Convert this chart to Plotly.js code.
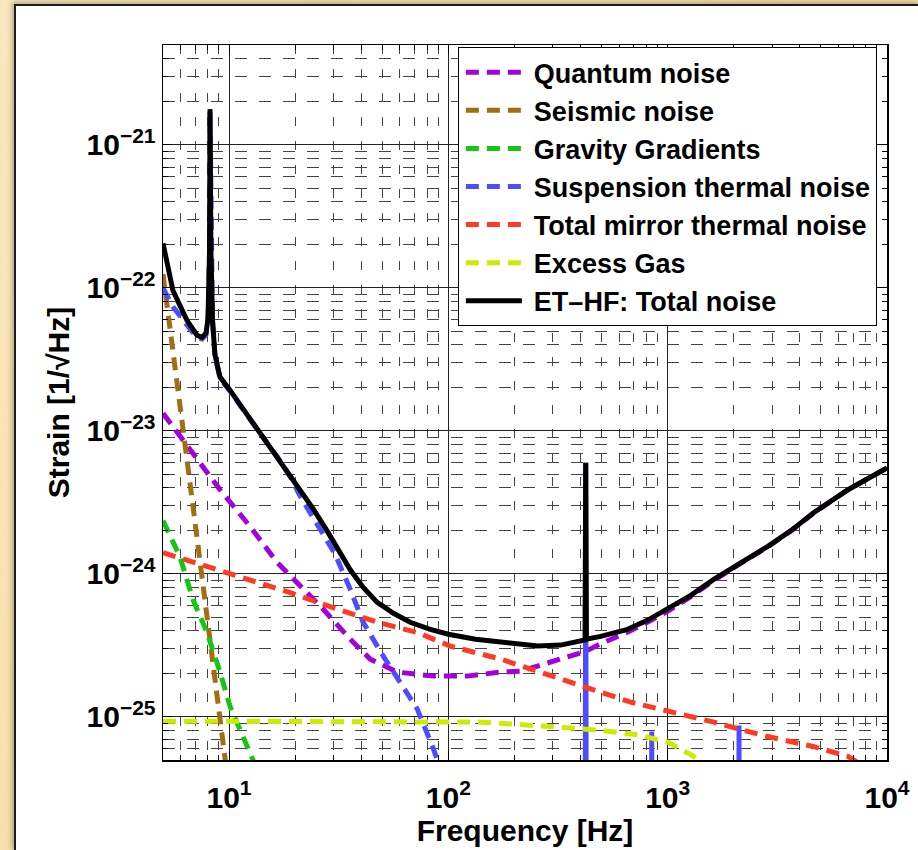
<!DOCTYPE html>
<html><head><meta charset="utf-8">
<script src="https://cdn.plot.ly/plotly-3.0.1.min.js"></script>
<style>
html,body{margin:0;padding:0;width:918px;height:850px;overflow:hidden;background:linear-gradient(135deg,#F9E7BF 0%,#F6DFAE 50%,#F9E8C4 100%);}
#panel{position:absolute;left:14px;top:4px;width:904px;height:846px;background:#fff;border-left:2px solid #1c1c1c;border-top:2px solid #1c1c1c;box-shadow:-2px -2px 5px rgba(70,50,10,0.35);}
#chart{position:absolute;left:0;top:0;width:918px;height:850px;}
</style></head><body>
<div id="panel"></div><div id="chart"></div>
<script>
// ---- data ----
const quantumF = [5.0, 6.84, 9.10, 12.5, 16.6, 20.4, 26.9, 35.7, 44.0, 58.5, 85.5, 122, 173, 214, 325, 423, 495, 656, 808, 1000, 1274, 1622, 2158, 2864, 3648, 4645, 6637, 10000];
const quantumH = [1.33e-23, 7.03e-24, 3.88e-24, 2.14e-24, 1.20e-24, 8.73e-25, 5.66e-25, 3.50e-25, 2.54e-25, 2.06e-25, 1.93e-25, 1.93e-25, 2.06e-25, 2.09e-25, 2.54e-25, 2.88e-25, 3.25e-25, 3.91e-25, 4.60e-25, 5.48e-25, 6.95e-25, 9.0e-25, 1.19e-24, 1.55e-24, 2.0e-24, 2.68e-24, 3.87e-24, 5.5e-24];

const seismicF = [5.0, 5.5, 6.0, 6.5, 7.0, 7.5, 8.0, 8.5, 9.0, 9.5, 10.0];
const seismicH = [1.25e-22, 4.2e-23, 1.5e-23, 5.8e-24, 2.3e-24, 1.0e-24, 4.7e-25, 2.3e-25, 1.12e-25, 5.8e-26, 3.1e-26];

const gravityF = [5.0, 5.97, 6.85, 7.94, 9.10, 10.1, 11.2, 12.9, 13.5];
const gravityH = [2.36e-24, 1.32e-24, 6.6e-25, 3.9e-25, 2.06e-25, 1.19e-25, 8.2e-26, 5.1e-26, 4.2e-26];

const suspF = [5.0, 5.55, 6.43, 7.14, 7.53, 7.85, 8.02, 8.15, 8.19, 8.27, 8.41, 8.63, 9.10, 10.1, 11.2, 12.5, 14.3, 16.6, 19.0, 21.1, 26.1, 30.5, 35.7, 40.9, 50.5, 60.4, 72.1, 85.5, 91.8];
const suspH = [1.0e-22, 7.4e-23, 5.5e-23, 4.5e-23, 4.4e-23, 4.7e-23, 6.0e-23, 1.8e-22, 1.7e-21, 1.8e-22, 5.8e-23, 3.3e-23, 2.33e-23, 1.9e-23, 1.5e-23, 1.2e-23, 9.0e-24, 6.6e-24, 4.8e-24, 3.5e-24, 2.04e-24, 1.37e-24, 7.8e-25, 4.59e-25, 2.66e-25, 1.75e-25, 1.14e-25, 5.98e-26, 4.35e-26];
// violin-mode spikes of the suspension thermal noise
const suspSpikeF = [420, 423, 426, null, 843, 846, 849, null, 2105, 2115, 2125];
const suspSpikeH = [1e-27, 6.0e-24, 1e-27, null, 1e-27, 7.9e-26, 1e-27, null, 1e-27, 8.7e-26, 1e-27];

const mirrorF = [5.0, 8.81, 12.5, 19.0, 28.9, 47.4, 72.1, 102, 173, 237, 401, 678, 1000, 1622, 2742, 4645, 6637, 7500];
const mirrorH = [1.41e-24, 1.07e-24, 9.2e-25, 7.4e-25, 5.9e-25, 4.6e-25, 3.9e-25, 3.13e-25, 2.54e-25, 2.16e-25, 1.64e-25, 1.27e-25, 1.10e-25, 9.2e-26, 7.4e-26, 6.2e-26, 5.3e-26, 4.7e-26];

const gasF = [5.0, 20, 60, 140, 283, 479, 729, 1000, 1233, 1371, 1450];
const gasH = [9.35e-26, 9.33e-26, 9.3e-26, 9.2e-26, 8.6e-26, 8.1e-26, 7.5e-26, 6.67e-26, 5.6e-26, 5.09e-26, 4.5e-26];

const totalF = [5.0, 5.55, 5.97, 6.43, 7.14, 7.53, 7.85, 8.02, 8.15, 8.19, 8.27, 8.41, 8.63, 9.10, 10.1, 11.2, 12.5, 14.3, 16.6, 19.0, 21.1, 24.2, 28.0, 32.1, 35.7, 40.9, 47.4, 56.2, 67.0, 82.7, 100, 133, 173, 255, 325, 401, 420, 423, 426, 495, 656, 808, 1000, 1274, 1622, 2158, 2864, 3648, 4645, 6637, 10000];
const totalH = [2.05e-22, 9.6e-23, 7.55e-23, 5.94e-23, 4.67e-23, 4.52e-23, 4.82e-23, 6.1e-23, 1.82e-22, 1.78e-21, 1.82e-22, 5.94e-23, 3.39e-23, 2.38e-23, 1.93e-23, 1.54e-23, 1.23e-23, 9.16e-24, 6.7e-24, 5.0e-24, 3.94e-24, 2.85e-24, 2.0e-24, 1.42e-24, 1.07e-24, 8.05e-25, 6.32e-25, 5.31e-25, 4.59e-25, 4.10e-25, 3.79e-25, 3.50e-25, 3.33e-25, 3.13e-25, 3.18e-25, 3.39e-25, 3.45e-25, 6.0e-24, 3.5e-25, 3.66e-25, 4.10e-25, 4.74e-25, 5.66e-25, 7.08e-25, 9.16e-25, 1.20e-24, 1.56e-24, 2.01e-24, 2.69e-24, 3.88e-24, 5.52e-24];

const seriesNames = ['Quantum noise', 'Seismic noise', 'Gravity Gradients', 'Suspension thermal noise', 'Total mirror thermal noise', 'Excess Gas', 'ET\u2013HF: Total noise'];
const seriesColors = ['#A400DC', '#A36E12', '#12C812', '#4D4DFF', '#FF3A22', '#CDEB00', '#000000'];

const xTickVals = [10, 100, 1000, 10000];
const xTickText = ['10<sup>1</sup>', '10<sup>2</sup>', '10<sup>3</sup>', '10<sup>4</sup>'];
const yTickVals = [1e-25, 1e-24, 1e-23, 1e-22, 1e-21];
const yTickText = ['10<sup>\u221225</sup>', '10<sup>\u221224</sup>', '10<sup>\u221223</sup>', '10<sup>\u221222</sup>', '10<sup>\u221221</sup>'];

// minor (2..9 per decade) tick positions
function minorVals(e0, e1) {
  const out = [];
  for (let e = e0; e <= e1; e++) for (let m = 2; m <= 9; m++) out.push(m * Math.pow(10, e));
  return out;
}

const DASH = '13px,8px';
const W = 5;
function dashed(x, y, i) {
  return {x: x, y: y, type: 'scatter', mode: 'lines', name: seriesNames[i],
    line: {color: seriesColors[i], width: W, dash: DASH}};
}
const traces = [
  dashed(quantumF, quantumH, 0),
  dashed(seismicF, seismicH, 1),
  dashed(gravityF, gravityH, 2),
  dashed(suspF, suspH, 3),
  {x: suspSpikeF, y: suspSpikeH, type: 'scatter', mode: 'lines', showlegend: false,
   connectgaps: false, line: {color: seriesColors[3], width: W}},
  dashed(mirrorF, mirrorH, 4),
  dashed(gasF, gasH, 5),
  {x: totalF, y: totalH, type: 'scatter', mode: 'lines', name: seriesNames[6],
   line: {color: seriesColors[6], width: 5}}
];

const FONT = 'Liberation Sans, Arial, Helvetica, sans-serif';
const axisCommon = {
  type: 'log', showline: true, linecolor: '#000', linewidth: 1.5, mirror: 'allticks',
  ticks: 'inside', ticklen: 9, tickwidth: 1, tickcolor: '#000',
  showgrid: true, gridcolor: '#222', gridwidth: 1, zeroline: false,
  tickmode: 'array',
  tickfont: {family: FONT, size: 30, color: '#000', weight: 'bold'}
};
const layout = {
  width: 918, height: 850,
  margin: {l: 163, r: 31, t: 45, b: 90},
  paper_bgcolor: 'rgba(0,0,0,0)', plot_bgcolor: '#fff',
  showlegend: true,
  xaxis: Object.assign({}, axisCommon, {
    range: [Math.log10(5), 4], tickvals: xTickVals, ticktext: xTickText,
    ticklabelstandoff: 10,
    minor: {tickmode: 'array', tickvals: minorVals(0, 3), ticks: 'inside', ticklen: 5, tickcolor: '#000',
            showgrid: true, gridcolor: '#444', gridwidth: 1, griddash: '9px,15px'},
    title: {text: 'Frequency [Hz]', font: {family: FONT, size: 30, color: '#000', weight: 'bold'}, standoff: 0}
  }),
  yaxis: Object.assign({}, axisCommon, {
    range: [Math.log10(5e-26), Math.log10(5e-21)], tickvals: yTickVals, ticktext: yTickText,
    minor: {tickmode: 'array', tickvals: minorVals(-26, -21), ticks: 'inside', ticklen: 5, tickcolor: '#000',
            showgrid: true, gridcolor: '#444', gridwidth: 1, griddash: '12px,12px'},
    title: {text: 'Strain [1/\u221AHz]', font: {family: FONT, size: 30, color: '#000', weight: 'bold'}, standoff: 8}
  }),
  legend: {x: 0.986, xanchor: 'right', y: 0.997, yanchor: 'top', bgcolor: '#fff',
           bordercolor: '#000', borderwidth: 1, tracegroupgap: 0,
           font: {family: FONT, size: 27, color: '#000', weight: 'bold'}, itemwidth: 65}
};
Plotly.newPlot('chart', traces, layout, {staticPlot: true}).then(function (gd) {
  // longer legend line samples, as in the reference
  gd.querySelectorAll('.legend .legendlines path').forEach(function (p) {
    p.setAttribute('d', 'M7,0h56');
  });
});
</script></body></html>
